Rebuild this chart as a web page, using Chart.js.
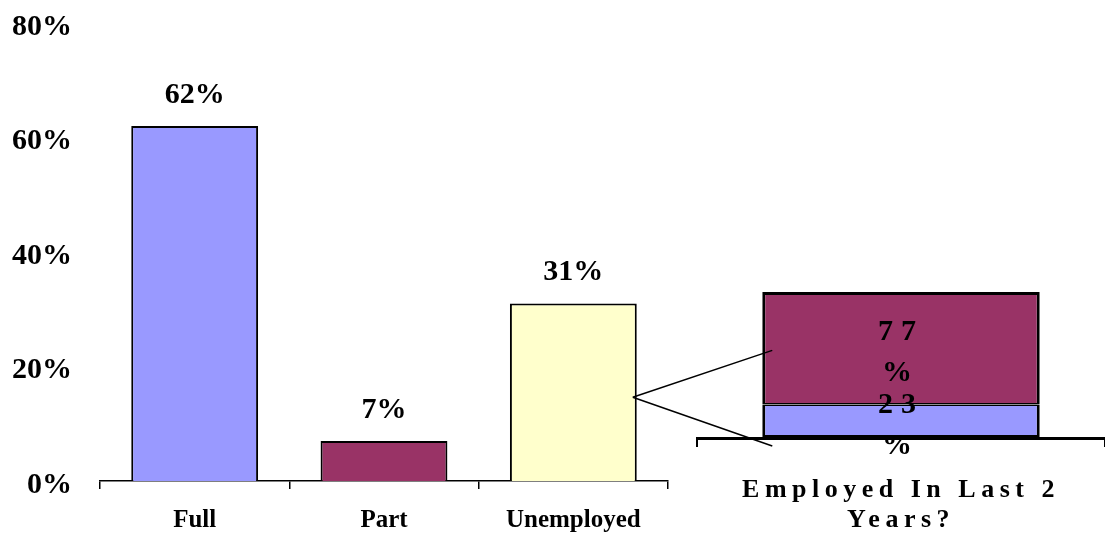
<!DOCTYPE html>
<html>
<head>
<meta charset="utf-8">
<script src="https://cdn.jsdelivr.net/npm/chart.js@4"></script>
<style>
  body { margin: 0; background: #fff; }
  #wrap { position: relative; width: 1105px; height: 533px; }
  #wrap canvas { position: absolute; left: 0; top: 0; }
</style>
</head>
<body>
<div id="wrap">
  <canvas id="chart-main" width="1105" height="533"></canvas>
  <canvas id="chart-split" width="1105" height="533"></canvas>
</div>
<script>
// main bars
const categories = ['Full', 'Part', 'Unemployed'];
const shares = [62, 7, 31];
const barColors = ['#9999FF', '#993366', '#FFFFCC'];
const yTicks = [0, 20, 40, 60, 80];

// breakdown of the unemployed bar
const splitLabel = [['Employed In Last 2', 'Years?']];
const lowerPart = [23];
const upperPart = [77];
const splitColors = ['#9999FF', '#993366'];

const serif = "'Liberation Serif', 'Times New Roman', serif";
Chart.defaults.font.family = serif;
Chart.defaults.color = '#000';

// % labels above the main bars
const valueLabels = {
  id: 'valueLabels',
  afterDatasetsDraw(chart) {
    const ctx = chart.ctx;
    ctx.save();
    ctx.font = 'bold 30px ' + serif;
    ctx.fillStyle = '#000';
    ctx.textAlign = 'center';
    ctx.textBaseline = 'middle';
    chart.getDatasetMeta(0).data.forEach((bar, i) => {
      ctx.fillText(shares[i] + '%', bar.x, bar.y - 31);
    });
    ctx.restore();
  }
};

const myCtx = document.getElementById('chart-main').getContext('2d');
const mainChart = new Chart(myCtx, {
  type: 'bar',
  data: {
    labels: categories,
    datasets: [{
      data: shares,
      backgroundColor: barColors,
      borderColor: '#000',
      borderWidth: 2,
      barPercentage: 0.67,
      categoryPercentage: 1
    }]
  },
  options: {
    responsive: false,
    animation: false,
    layout: { padding: { top: 23, right: 437, left: 0, bottom: 0 } },
    plugins: { legend: { display: false }, tooltip: { enabled: false } },
    scales: {
      x: {
        grid: { display: true, drawOnChartArea: false, drawTicks: true, tickLength: 8, color: '#000', lineWidth: 1.5, offset: true },
        border: { display: true, color: '#000', width: 1.5 },
        ticks: { padding: 17, font: { size: 25, weight: 'bold' }, maxRotation: 0, autoSkip: false },
        afterFit: s => { s.height = 52; }
      },
      y: {
        min: 0,
        max: 80,
        afterBuildTicks: s => { s.ticks = yTicks.map(v => ({ value: v })); },
        grid: { display: false, drawTicks: false },
        border: { display: false },
        ticks: { padding: 28, labelOffset: 4, font: { size: 30, weight: 'bold' }, callback: v => v + '%' },
        afterFit: s => { s.width = 100; s.paddingTop = 0; s.paddingBottom = 0; }
      }
    }
  },
  plugins: [valueLabels]
});

// wide letter spacing on the right hand chart
const spacing = {
  id: 'spacing',
  beforeUpdate(chart) { chart.ctx.letterSpacing = '5.5px'; },
  beforeDraw(chart) { chart.ctx.letterSpacing = '5.5px'; }
};

// "77 / %" style labels inside the stacked bar
const splitLabels = {
  id: 'splitLabels',
  afterDatasetsDraw(chart) {
    const ctx = chart.ctx;
    const vals = [lowerPart, upperPart];
    ctx.save();
    ctx.font = 'bold 30px ' + serif;
    ctx.letterSpacing = '8px';
    ctx.fillStyle = '#000';
    ctx.textAlign = 'center';
    ctx.textBaseline = 'middle';
    vals.forEach((v, d) => {
      const bar = chart.getDatasetMeta(d).data[0];
      const cy = (bar.y + bar.base) / 2 + 5;
      ctx.fillText(String(v[0]), bar.x, cy - 20.5);
      ctx.fillText('%', bar.x, cy + 20.5);
    });
    ctx.restore();
  }
};

// lines from the unemployed bar to the breakdown bar
const connectors = {
  id: 'connectors',
  afterDatasetsDraw(chart) {
    const un = mainChart.getDatasetMeta(0).data[2];
    const x0 = un.x + un.width / 2 - 4;
    const y0 = (un.y + un.base) / 2 + 5;
    const low = chart.getDatasetMeta(0).data[0];
    const x1 = low.x - low.width / 2 + 10;
    const ys = chart.scales.y;
    const ctx = chart.ctx;
    ctx.save();
    ctx.strokeStyle = '#000';
    ctx.lineWidth = 1.5;
    ctx.beginPath();
    ctx.moveTo(x0, y0);
    ctx.lineTo(x1, ys.getPixelForValue(60));
    ctx.moveTo(x0, y0);
    ctx.lineTo(x1, ys.getPixelForValue(-5.5));
    ctx.stroke();
    ctx.restore();
  }
};

const ctx2 = document.getElementById('chart-split').getContext('2d');
const splitChart = new Chart(ctx2, {
  type: 'bar',
  data: {
    labels: splitLabel,
    datasets: [
      { data: lowerPart, backgroundColor: splitColors[0], borderColor: '#000', borderSkipped: false,
        borderWidth: { top: 1.5, left: 3, right: 3, bottom: 3 }, barPercentage: 0.68, categoryPercentage: 1 },
      { data: upperPart, backgroundColor: splitColors[1], borderColor: '#000', borderSkipped: false,
        borderWidth: { top: 3, left: 3, right: 3, bottom: 1.5 }, barPercentage: 0.68, categoryPercentage: 1 }
    ]
  },
  options: {
    responsive: false,
    animation: false,
    layout: { padding: { left: 697, top: 292, right: 0, bottom: 0 } },
    plugins: { legend: { display: false }, tooltip: { enabled: false } },
    scales: {
      x: {
        stacked: true,
        grid: { display: true, drawOnChartArea: false, drawTicks: true, tickLength: 9, color: '#000', lineWidth: 2, offset: true },
        border: { display: true, color: '#000', width: 3 },
        ticks: { padding: 28, font: { size: 26, weight: 'bold', lineHeight: 1.15 }, maxRotation: 0, autoSkip: false },
        afterFit: s => { s.height = 95; }
      },
      y: { stacked: true, display: false, min: 0, max: 100 }
    }
  },
  plugins: [spacing, splitLabels, connectors]
});
</script>
</body>
</html>
